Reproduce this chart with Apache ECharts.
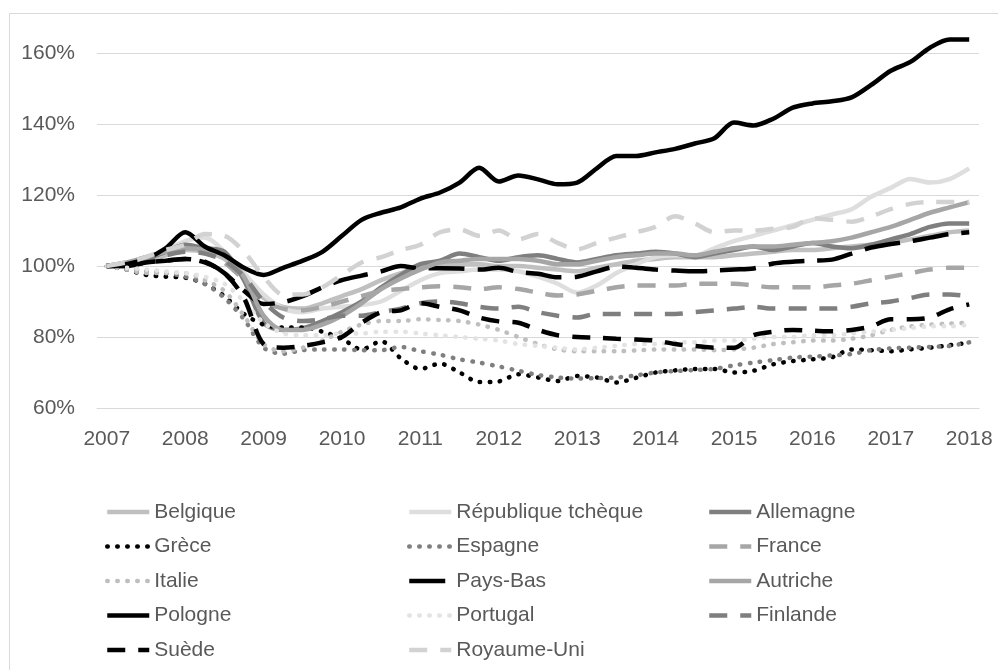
<!DOCTYPE html>
<html>
<head>
<meta charset="utf-8">
<script src="https://cdn.jsdelivr.net/npm/echarts@6/dist/echarts.min.js"></script>
<style>
  html, body { margin: 0; padding: 0; background: #fff; }
  #chart { width: 998px; height: 670px; }
</style>
</head>
<body>
<div id="chart"></div>
<script>
// années affichées sur l'axe (données trimestrielles 2007T1 -> 2018T1)
const years = [2007, 2008, 2009, 2010, 2011, 2012, 2013, 2014, 2015, 2016, 2017, 2018];
const yTicks = [60, 80, 100, 120, 140, 160];

// indices (base 100 = 2007T1)
const belgique = [100, 100.5, 101.5, 103, 104.5, 104, 102, 97, 91, 88.5, 88, 89.5, 91.5, 93.5, 96, 98,
  99.5, 100, 100.5, 100.5, 100, 100, 99.5, 99, 98.5, 99.5, 100.5, 101.5, 102, 102.5, 102.5, 102.5,
  103, 103.5, 104, 104.5, 104.5, 105, 105.5, 106, 106.5, 107.5, 108.5, 109.5, 110];
const republiqueTcheque = [100, 100.5, 102, 104.5, 107, 108, 104, 98, 92, 88, 87, 88, 88.5, 89, 90, 93,
  96, 98, 98.5, 99, 99, 98.5, 97, 95, 92.5, 94.5, 98, 100.5, 102.5, 103, 103, 105,
  107, 108.5, 110, 111.5, 113, 114.5, 116, 119.5, 122, 124.5, 123.5, 124.5, 127.5];
const allemagne = [100, 100.5, 102, 104, 106, 105, 104, 96, 84, 82, 82.5, 84.5, 87, 90, 94, 97.5,
  100.5, 101.5, 103.5, 102.5, 101.5, 102.5, 103, 102, 101, 102, 103, 103.5, 104, 103.5, 102.5, 103.5,
  104.5, 105.5, 104.5, 105.5, 106.5, 105.5, 105, 106, 107.5, 109, 111, 112, 112];
const grece = [100, 99, 97.5, 97, 96.7, 95, 91.5, 86.5, 83.5, 82.7, 82.7, 81.5, 79.5, 76.5, 78.8, 74,
  71, 72.5, 70, 67.3, 67.5, 69.5, 68.6, 67.6, 69, 68.6, 67.2, 68.5, 70, 70.6, 71, 71,
  70, 70.5, 72.3, 73.2, 73.7, 74.3, 76.5, 76.3, 76, 76.5, 77, 77.7, 78.4];
const espagne = [100, 99.5, 98.5, 98, 97, 95, 91, 85, 77, 75.3, 76.3, 76.5, 76.5, 76.3, 76.3, 77.2,
  76, 75, 73.7, 72.8, 71.7, 70.5, 69.3, 68.6, 68.3, 68.4, 68.6, 69.2, 70, 70.4, 70.7, 71,
  72, 72.8, 73.5, 74.2, 74.5, 74.8, 75.2, 76.3, 76.8, 77, 77.2, 77.5, 78.5];
const france = [100, 101, 102.5, 104, 105, 104, 101, 96, 90, 88, 87.5, 88.5, 90, 91.5, 93, 93.5,
  94, 94.3, 94, 93.5, 94, 93.5, 92.5, 91.7, 92, 93, 94, 94.5, 94.5, 94.5, 95, 95,
  95, 94.5, 94, 94, 94, 94.5, 95, 96, 97, 98, 99, 99.5, 99.5];
const italie = [100, 99, 98, 98, 98, 96, 93, 86, 78, 76, 77, 79, 81.5, 83.5, 84.5, 84.5,
  85, 84.8, 84.5, 83.5, 82, 80, 78, 76.5, 76, 76, 76, 76.2, 76.5, 76.5, 76.5, 76.3,
  76.5, 77, 78, 78.5, 79, 79, 79.5, 80.5, 82, 83, 83.5, 83.8, 84];
const paysBas = [100, 100, 101, 101.5, 102, 101.2, 98, 93, 89.3, 89.8, 91.5, 94, 96, 97.3, 98.5, 100,
  99.3, 99.4, 99.3, 99, 99.5, 98.3, 97.8, 96.8, 97, 98.5, 99.8, 99.5, 99, 98.7, 98.5, 98.7,
  99, 99.3, 100.7, 101.2, 101.5, 101.8, 103.5, 105.2, 106.2, 107, 108, 109, 109.5];
const autriche = [100, 101, 102.5, 104, 105, 104.5, 103, 97, 86, 82, 82, 83.5, 86, 89.5, 93.5, 96.5,
  99, 101, 101.5, 102, 102, 102, 101.5, 100.5, 100.5, 101.5, 102.5, 103, 103.5, 103.5, 103, 104,
  105, 105.5, 105.5, 106, 106.5, 107, 108, 109.5, 111, 113, 115, 116.5, 118];
const pologne = [100, 100.5, 102, 105, 109.5, 105.5, 103, 99.5, 97.5, 99.5, 101.5, 104, 108.5, 113, 115, 116.5,
  119, 120.7, 123.5, 127.7, 123.8, 125.5, 124.4, 123, 123.5, 127.5, 131, 131, 132, 133, 134.5, 136,
  140.4, 139.6, 141.5, 144.6, 145.8, 146.4, 147.5, 151, 155, 157.5, 161.5, 163.8, 163.8];
const portugal = [100, 99.5, 99, 98.5, 98, 97, 95, 90, 84, 81, 80.5, 80.5, 81, 81, 81.5, 81.5,
  81, 80.5, 80, 79.5, 79, 78, 77.5, 77, 76.5, 77, 77.5, 78, 78, 78.5, 78.5, 79,
  79, 79.5, 80, 80, 80.5, 80.5, 81, 81.5, 82, 82.5, 83, 83, 83.5];
const finlande = [100, 100.5, 101.5, 103, 104, 103.5, 101.5, 97, 90, 85.5, 84.5, 85, 86, 86, 87, 88,
  89.5, 90, 89.5, 88.5, 88, 88.5, 87, 86, 85.5, 86.5, 86.5, 86.5, 86.5, 86.5, 87, 87.5,
  88, 88.5, 88, 88, 88, 88, 88.5, 89.5, 90, 91, 92, 92, 91.5];
const suede = [100, 100, 101, 101.5, 102, 101, 98, 91, 78, 77, 77.5, 78.5, 80, 84, 87, 87.5,
  89.5, 88.5, 87.5, 85.5, 84.4, 84, 82, 80.5, 80, 79.8, 79.5, 79.3, 79, 78, 77.5, 77,
  77, 80.5, 81.5, 82, 81.8, 81.6, 82, 83, 85, 85, 85.5, 87.8, 89.2];
const royaumeUni = [100, 101, 102.5, 104.5, 106, 109, 108.5, 104, 97, 92, 92, 94, 97.5, 101, 102.5, 104.5,
  106, 109.5, 110.3, 108.5, 110, 107.5, 109, 106.5, 104.7, 106.5, 108, 109.5, 111, 114, 112, 109.5,
  110, 110, 110.5, 111, 113.5, 113, 112.5, 114, 116, 117.5, 118, 118, 118];

// catégories trimestrielles
const quarters = [];
years.forEach(function(y, i){
  const n = i === years.length - 1 ? 1 : 4;
  for (let q = 1; q <= n; q++) quarters.push(y + ' T' + q);
});

const W = 4.5;
const SOLID = 'solid';
const DASH = [18, 13];
const LONGDASH = [36, 13];
const DOT = [0.5, 9.5];

function mk(name, data, color, type, extra){
  const isDot = type === DOT;
  return Object.assign({
    name: name,
    type: 'line',
    data: data,
    symbol: 'none',
    smooth: 0.3,
    lineStyle: {color: color, width: W, type: type, cap: isDot ? 'round' : 'butt'},
    itemStyle: {color: color}
  }, extra || {});
}

const series = [
  mk('Belgique', belgique, '#c0c0c0', SOLID),
  mk('République tchèque', republiqueTcheque, '#dedede', SOLID),
  mk('Allemagne', allemagne, '#7f7f7f', SOLID),
  mk('Grèce', grece, '#000000', DOT),
  mk('Espagne', espagne, '#7f7f7f', DOT),
  mk('France', france, '#a6a6a6', DASH),
  mk('Italie', italie, '#bfbfbf', DOT),
  mk('Pays-Bas', paysBas, '#000000', LONGDASH),
  mk('Autriche', autriche, '#a6a6a6', SOLID),
  mk('Pologne', pologne, '#000000', SOLID, {clip: false}),
  mk('Portugal', portugal, '#e3e3e3', DOT),
  mk('Finlande', finlande, '#7f7f7f', DASH),
  mk('Suède', suede, '#000000', DASH),
  mk('Royaume-Uni', royaumeUni, '#d2d2d2', DASH)
];
const dotted = ['Grèce', 'Espagne', 'Italie', 'Portugal'];

const FONT = 'Liberation Sans';
function legendCol(left, names){
  return {
    orient: 'vertical',
    left: left,
    top: 495,
    itemWidth: 42,
    itemHeight: 14,
    itemGap: 10.5,
    selectedMode: false,
    data: names.map(function(n){
      return {name: n, lineStyle: {cap: dotted.indexOf(n) >= 0 ? 'round' : 'butt'}};
    }),
    itemStyle: {opacity: 0},
    lineStyle: {width: W, type: 'inherit', color: 'inherit'},
    textStyle: {fontFamily: FONT, fontSize: 21, color: '#595959', lineHeight: 24}
  };
}

const chart = echarts.init(document.getElementById('chart'), null, {renderer: 'canvas'});
chart.setOption({
  backgroundColor: '#ffffff',
  animation: false,
  graphic: [{
    type: 'rect',
    shape: {x: 9.5, y: 13.5, width: 1000, height: 700},
    style: {fill: 'none', stroke: '#d9d9d9', lineWidth: 1},
    silent: true
  }],
  grid: {left: 97, right: 19, top: 53, bottom: 262},
  xAxis: {
    type: 'category',
    data: quarters,
    boundaryGap: true,
    axisLine: {show: true, lineStyle: {color: '#d9d9d9'}},
    axisTick: {show: false},
    axisLabel: {
      interval: 3,
      margin: 21,
      fontFamily: FONT, fontSize: 21, color: '#595959',
      formatter: function(v){ return v.slice(0, 4); }
    }
  },
  yAxis: {
    type: 'value',
    min: yTicks[0],
    max: yTicks[yTicks.length - 1],
    interval: 20,
    axisLine: {show: false},
    axisTick: {show: false},
    splitLine: {lineStyle: {color: '#d9d9d9', width: 1}},
    axisLabel: {margin: 22, fontFamily: FONT, fontSize: 21, color: '#595959', formatter: '{value}%'}
  },
  legend: [
    legendCol(100, ['Belgique', 'Grèce', 'Italie', 'Pologne', 'Suède']),
    legendCol(402, ['République tchèque', 'Espagne', 'Pays-Bas', 'Portugal', 'Royaume-Uni']),
    legendCol(702, ['Allemagne', 'France', 'Autriche', 'Finlande'])
  ],
  series: series
});
window.addEventListener('resize', () => chart.resize());
</script>
</body>
</html>
